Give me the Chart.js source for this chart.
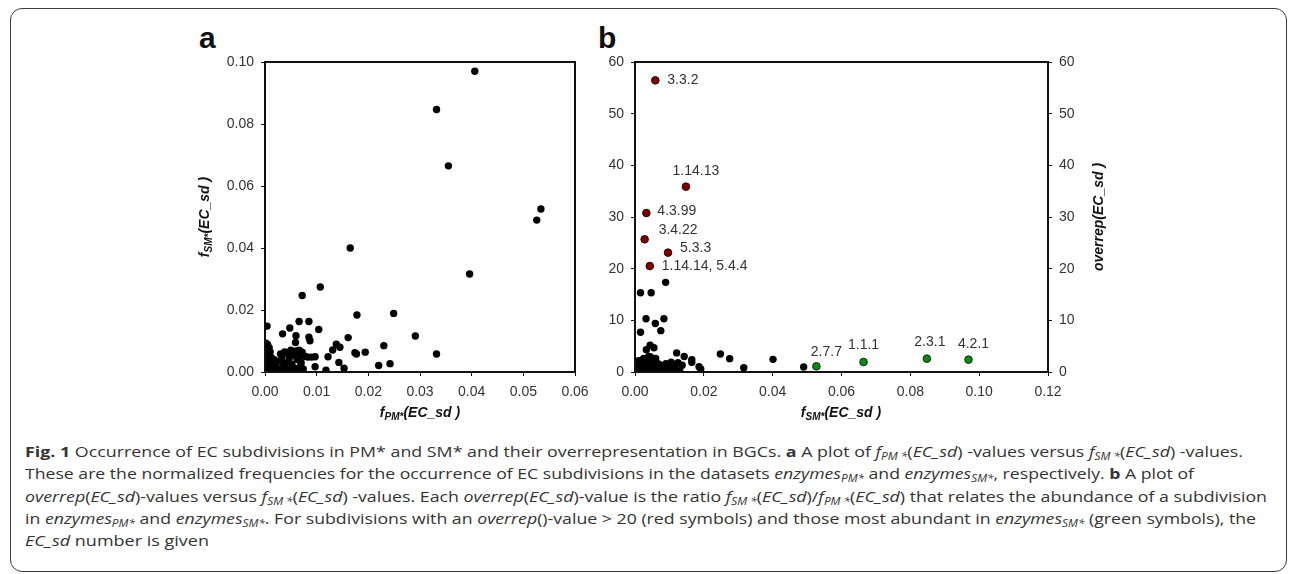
<!DOCTYPE html>
<html>
<head>
<meta charset="utf-8">
<script src="https://cdn.jsdelivr.net/npm/chart.js@4.4.1/dist/chart.umd.min.js"></script>
<style>
html, body { margin: 0; padding: 0; background: #fff; }
body { width: 1290px; height: 574px; position: relative; overflow: hidden; font-family: "Liberation Sans", Arial, sans-serif; }
.frame { position: absolute; left: 10px; top: 8px; width: 1277px; height: 564px; border: 1.5px solid #3a3a3a; border-radius: 12px; box-sizing: border-box; }
.panel { position: absolute; top: 23px; font: bold 30px/1 "Liberation Sans", Arial, sans-serif; color: #111; }
.chartbox { position: absolute; top: 0; height: 430px; }
.caption { position: absolute; left: 25px; top: 440px; font: 15px "Open Sans", sans-serif; color: #333; line-height: 22.3px; }
.caption div { white-space: nowrap; transform-origin: 0 0; width: max-content; }
.caption sub { font-size: 10px; vertical-align: -3px; line-height: 0; }
</style>
</head>
<body>
<div class="frame"></div>
<div class="panel" style="left:199px">a</div>
<div class="panel" style="left:598px">b</div>
<div class="chartbox" style="left:150px;width:450px"><canvas id="chartA"></canvas></div>
<div class="chartbox" style="left:600px;width:520px"><canvas id="chartB"></canvas></div>
<div class="caption">
  <div data-w="1218"><b>Fig. 1</b> Occurrence of EC subdivisions in PM* and SM* and their overrepresentation in BGCs. <b>a</b> A plot of <i>f</i><sub><i>PM *</i></sub>(<i>EC_sd</i>) -values versus <i>f</i><sub><i>SM *</i></sub>(<i>EC_sd</i>) -values.</div>
  <div data-w="1169">These are the normalized frequencies for the occurrence of EC subdivisions in the datasets <i>enzymes</i><sub><i>PM*</i></sub> and <i>enzymes</i><sub><i>SM*</i></sub>, respectively. <b>b</b> A plot of</div>
  <div data-w="1242"><i>overrep</i>(<i>EC_sd</i>)-values versus <i>f</i><sub><i>SM *</i></sub>(<i>EC_sd</i>) -values. Each <i>overrep</i>(<i>EC_sd</i>)-value is the ratio <i>f</i><sub><i>SM *</i></sub>(<i>EC_sd</i>)/<i>f</i><sub><i>PM *</i></sub>(<i>EC_sd</i>) that relates the abundance of a subdivision</div>
  <div data-w="1231">in <i>enzymes</i><sub><i>PM*</i></sub> and <i>enzymes</i><sub><i>SM*</i></sub>. For subdivisions with an <i>overrep</i>()-value &gt; 20 (red symbols) and those most abundant in <i>enzymes</i><sub><i>SM*</i></sub> (green symbols), the</div>
  <div data-w="184"><i>EC_sd</i> number is given</div>
</div>
<script>
"use strict";

// Panel a: fPM*(EC_sd) vs fSM*(EC_sd)
var aFpm = [0.0406, 0.0332, 0.0355, 0.0534, 0.0526, 0.0165, 0.0396, 0.0107, 0.0072, 0.0178, 0.0249, 0.0291, 0.0332,
    0.0230, 0.0242, 0.0220, 0.0194, 0.0174, 0.0177, 0.0161, 0.0153, 0.0143, 0.0145, 0.0138, 0.0131, 0.0122, 0.0118,
    0.0104, 0.0085, 0.0066, 0.0048, 0.0034, 0.0060, 0.0059, 0.0085, 0.0087, 0.0097, 0.0097, 0.0004,
    0.0002, 0.0005, 0.0008, 0.0003, 0.0010, 0.0002, 0.0006, 0.0012, 0.0003, 0.0008, 0.0015, 0.0002, 0.0006, 0.0011,
    0.0003, 0.0009, 0.0001, 0.0016, 0.0020, 0.0018, 0.0024, 0.0028, 0.0030, 0.0033, 0.0036, 0.0038, 0.0040, 0.0043,
    0.0045, 0.0047, 0.0050, 0.0052, 0.0055, 0.0057, 0.0060, 0.0062, 0.0064, 0.0066, 0.0068, 0.0070, 0.0072, 0.0074,
    0.0078, 0.0083, 0.0090, 0.0069, 0.0045, 0.0025, 0.0035, 0.0055];
var aFsm = [0.0970, 0.0847, 0.0665, 0.0526, 0.0490, 0.0400, 0.0316, 0.0274, 0.0247, 0.0184, 0.0189, 0.0116, 0.0058,
    0.0085, 0.0027, 0.0021, 0.0064, 0.0062, 0.0058, 0.0111, 0.0012, 0.0031, 0.0080, 0.0090, 0.0071, 0.0049, 0.0006,
    0.0137, 0.0163, 0.0163, 0.0142, 0.0123, 0.0117, 0.0095, 0.0112, 0.0101, 0.0049, 0.0017, 0.0148,
    0.0093, 0.0088, 0.0078, 0.0070, 0.0065, 0.0058, 0.0052, 0.0047, 0.0040, 0.0036, 0.0030, 0.0025, 0.0020, 0.0016,
    0.0010, 0.0006, 0.0003, 0.0008, 0.0022, 0.0040, 0.0012, 0.0035, 0.0058, 0.0050, 0.0018, 0.0065, 0.0030, 0.0062,
    0.0008, 0.0045, 0.0070, 0.0025, 0.0055, 0.0012, 0.0068, 0.0040, 0.0003, 0.0070, 0.0050, 0.0030, 0.0064, 0.0010,
    0.0050, 0.0048, 0.0048, 0.0020, 0.0005, 0.0002, 0.0004, 0.0002];

// Panel b: fSM*(EC_sd) vs overrep(EC_sd)
var bFsm = [0.0089, 0.0016, 0.0047, 0.0032, 0.0084, 0.0059, 0.0075, 0.0016, 0.0044, 0.0055, 0.0033, 0.0121, 0.0143,
    0.0165, 0.0165, 0.0137, 0.0186, 0.0191, 0.0248, 0.0275, 0.0316, 0.0401, 0.0490,
    0.0003, 0.0006, 0.0009, 0.0012, 0.0015, 0.0018, 0.0020, 0.0022, 0.0025, 0.0027, 0.0030, 0.0032, 0.0035, 0.0038,
    0.0040, 0.0042, 0.0045, 0.0048, 0.0050, 0.0052, 0.0055, 0.0058, 0.0062, 0.0065, 0.0068, 0.0070, 0.0075, 0.0080,
    0.0085, 0.0090, 0.0095, 0.0100, 0.0105, 0.0110, 0.0115, 0.0120, 0.0125, 0.0130, 0.0060, 0.0040, 0.0010];
var bOverrep = [17.35, 15.35, 15.35, 10.3, 10.3, 9.4, 8.0, 7.7, 5.2, 4.7, 4.3, 3.7, 3.0,
    2.4, 1.9, 1.3, 1.03, 0.6, 3.48, 2.58, 0.84, 2.45, 0.97,
    0.5, 1.2, 0.3, 1.6, 0.8, 2.1, 0.4, 1.3, 2.6, 0.9, 1.9, 0.2, 1.1, 2.4,
    0.6, 1.7, 2.9, 1.0, 0.3, 2.0, 1.4, 0.5, 1.8, 1.0, 0.2, 1.5, 0.7, 1.2,
    0.4, 1.6, 1.0, 0.5, 1.9, 0.8, 1.3, 0.4, 1.8, 0.3, 2.6, 3.0, 2.2];

// overrep() > 20 (red) and most abundant in enzymes SM* (green)
var redFsm = [0.0059, 0.0148, 0.0033, 0.0028, 0.0096, 0.0043];
var redOverrep = [56.45, 35.87, 30.77, 25.68, 23.1, 20.5];
var redLabels = ['3.3.2', '1.14.13', '4.3.99', '3.4.22', '5.3.3', '1.14.14, 5.4.4'];
var greenFsm = [0.0527, 0.0664, 0.0848, 0.0969];
var greenOverrep = [1.1, 1.94, 2.58, 2.39];
var greenLabels = ['2.7.7', '1.1.1', '2.3.1', '4.2.1'];

// where each EC label sits next to its dot: [dx, dy, align]
var redLabelPlace = [[12, 0, 'left'], [10, -16, 'center'], [11, -2, 'left'], [14, -9, 'left'], [12, -5, 'left'], [12, 0, 'left']];
var greenLabelPlace = [[10, -14, 'center'], [0, -17, 'center'], [3, -17, 'center'], [5, -16, 'center']];

var FONT = '"Liberation Sans", Arial, sans-serif';
var BIG = 'bold italic 14px ' + FONT;
var SMALL = 'bold italic 10px ' + FONT;

function toPoints(xs, ys) {
    return xs.map(function (x, i) { return { x: x, y: ys[i] }; });
}

function richText(ctx, parts, cx, cy, rotate) {
    ctx.save();
    var total = 0;
    parts.forEach(function (p) { ctx.font = p.font; p.w = ctx.measureText(p.t).width; total += p.w; });
    ctx.translate(cx, cy);
    if (rotate) ctx.rotate(-Math.PI / 2);
    ctx.textBaseline = 'middle';
    ctx.textAlign = 'left';
    ctx.fillStyle = '#111';
    var x = -total / 2;
    parts.forEach(function (p) { ctx.font = p.font; ctx.fillText(p.t, x, p.dy || 0); x += p.w; });
    ctx.restore();
}

function fLabel(sub) {
    return [{ t: 'f', font: BIG }, { t: sub, font: SMALL, dy: 4 }, { t: '(EC_sd )', font: BIG }];
}

// box round the plot area plus the axis titles
function framePlugin(titles) {
    return {
        id: 'frame',
        afterDatasetsDraw: function (chart) {
            var a = chart.chartArea, ctx = chart.ctx;
            ctx.save();
            ctx.strokeStyle = '#111';
            ctx.lineWidth = 2;
            ctx.strokeRect(a.left, a.top, a.right - a.left, a.bottom - a.top);
            ctx.restore();
            titles.forEach(function (t) { richText(ctx, t.parts, t.x, t.y, t.rotate); });
        }
    };
}

var ecLabelPlugin = {
    id: 'ecLabels',
    afterDatasetsDraw: function (chart) {
        var ctx = chart.ctx, xs = chart.scales.x, ys = chart.scales.y;
        ctx.save();
        ctx.font = '14px ' + FONT;
        ctx.fillStyle = '#333';
        ctx.textBaseline = 'middle';
        function put(fx, fy, labels, place) {
            labels.forEach(function (lab, i) {
                ctx.textAlign = place[i][2];
                ctx.fillText(lab, xs.getPixelForValue(fx[i]) + place[i][0], ys.getPixelForValue(fy[i]) + place[i][1]);
            });
        }
        put(redFsm, redOverrep, redLabels, redLabelPlace);
        put(greenFsm, greenOverrep, greenLabels, greenLabelPlace);
        ctx.restore();
    }
};

function axisBase(pos, min, max, step, digits, width, height) {
    return {
        type: 'linear', position: pos, min: min, max: max,
        grid: { drawOnChartArea: false, drawTicks: true, tickLength: 4, color: '#111', lineWidth: 1 },
        border: { display: false },
        ticks: {
            stepSize: step, autoSkip: false, maxRotation: 0, padding: pos === 'bottom' ? 8 : 7,
            color: '#333', font: { family: FONT, size: 14 },
            callback: function (v) { return v.toFixed(digits); }
        },
        afterFit: function (s) {
            if (width !== undefined) s.width = width;
            if (height !== undefined) s.height = height;
        }
    };
}

Chart.defaults.animation = false;

new Chart(document.getElementById('chartA'), {
    type: 'scatter',
    data: {
        datasets: [{
            data: toPoints(aFpm, aFsm),
            backgroundColor: '#000', borderWidth: 0, pointRadius: 3.7
        }]
    },
    options: {
        responsive: true, maintainAspectRatio: false,
        layout: { padding: { top: 62, right: 25, left: 0, bottom: 0 } },
        scales: {
            x: axisBase('bottom', 0, 0.06, 0.01, 2, undefined, 58),
            y: axisBase('left', 0, 0.1, 0.02, 2, 115)
        },
        plugins: { legend: { display: false }, tooltip: { enabled: false } }
    },
    plugins: [framePlugin([
        { parts: fLabel('PM*'), x: 270, y: 413 },
        { parts: fLabel('SM*'), x: 55, y: 217, rotate: true }
    ])]
});

new Chart(document.getElementById('chartB'), {
    type: 'scatter',
    data: {
        datasets: [{
            data: toPoints(bFsm, bOverrep),
            backgroundColor: '#000', borderWidth: 0, pointRadius: 3.7
        }, {
            data: toPoints(redFsm, redOverrep),
            backgroundColor: '#7d0000', borderColor: '#2a0000', borderWidth: 1, pointRadius: 3.8
        }, {
            data: toPoints(greenFsm, greenOverrep),
            backgroundColor: '#0b8a14', borderColor: '#0a2a0a', borderWidth: 1, pointRadius: 3.8
        }]
    },
    options: {
        responsive: true, maintainAspectRatio: false,
        layout: { padding: { top: 62, right: 0, left: 0, bottom: 0 } },
        scales: {
            x: axisBase('bottom', 0, 0.12, 0.02, 2, undefined, 58),
            y: axisBase('left', 0, 60, 10, 0, 35),
            y2: axisBase('right', 0, 60, 10, 0, 72)
        },
        plugins: { legend: { display: false }, tooltip: { enabled: false } }
    },
    plugins: [framePlugin([
        { parts: fLabel('SM*'), x: 241, y: 413 },
        { parts: [{ t: 'overrep(EC_sd )', font: BIG }], x: 499, y: 217, rotate: true }
    ]), ecLabelPlugin]
});

// stretch each caption line to the width it has in the figure
Array.from(document.querySelectorAll('.caption div')).forEach(function (line) {
    var w = line.getBoundingClientRect().width;
    line.style.transform = 'scaleX(' + (parseFloat(line.dataset.w) / w) + ')';
});
</script>
</body>
</html>
